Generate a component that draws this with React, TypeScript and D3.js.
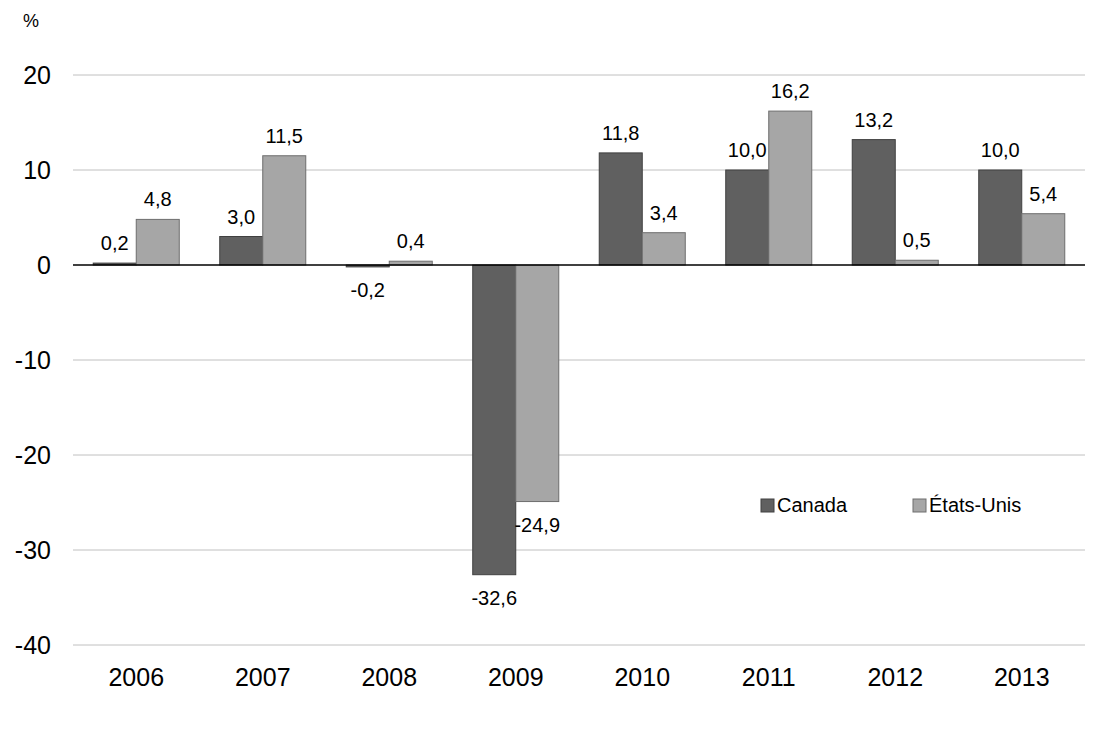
import * as d3 from 'd3';

const years = ['2006', '2007', '2008', '2009', '2010', '2011', '2012', '2013'];
const canada = [0.2, 3.0, -0.2, -32.6, 11.8, 10.0, 13.2, 10.0];
const etatsUnis = [4.8, 11.5, 0.4, -24.9, 3.4, 16.2, 0.5, 5.4];
const yTicks = [20, 10, 0, -10, -20, -30, -40];

const series = [
  { name: 'Canada', values: canada, fill: '#606060', stroke: '#404040' },
  { name: 'États-Unis', values: etatsUnis, fill: '#a6a6a6', stroke: '#6e6e6e' },
];

const W = 1100;
const H = 733;
const font = 'Arial, "Liberation Sans", sans-serif';

const fmt = (v: number) => v.toFixed(1).replace('.', ',');

export default function App() {
  const x = d3.scaleBand<string>().domain(years).range([73, 1085]).paddingInner(0.32).paddingOuter(0.16);
  const xs = d3
    .scaleBand<string>()
    .domain(series.map((s) => s.name))
    .range([0, x.bandwidth()]);
  const y = d3.scaleLinear().domain([-40, 20]).range([645, 75]);

  return (
    <svg
      width={W}
      height={H}
      style={{ position: 'absolute', left: 0, top: 0, background: '#fff' }}
      fontFamily={font}
    >
      <text x={23} y={27} fontSize={18}>
        %
      </text>

      {/* gridlines + y labels */}
      {yTicks.map((t) => (
        <g key={t}>
          {t !== 0 && (
            <line x1={73} x2={1085} y1={y(t)} y2={y(t)} stroke="#c0c0c0" strokeWidth={1} />
          )}
          <text x={51} y={y(t)} dy="0.36em" textAnchor="end" fontSize={25} fill="#000">
            {t}
          </text>
        </g>
      ))}

      {/* bars */}
      {series.map((s) => (
        <g key={s.name}>
          {s.values.map((v, i) => {
            const bx = (x(years[i]) ?? 0) + (xs(s.name) ?? 0);
            const top = y(Math.max(0, v));
            const bot = y(Math.min(0, v));
            return (
              <rect
                key={i}
                x={bx}
                y={top}
                width={xs.bandwidth()}
                height={Math.max(bot - top, 1)}
                fill={s.fill}
                stroke={s.stroke}
                strokeWidth={1}
              />
            );
          })}
        </g>
      ))}

      {/* zero line */}
      <line x1={73} x2={1085} y1={y(0)} y2={y(0)} stroke="#000" strokeWidth={1.5} />

      {/* value labels */}
      {series.map((s) =>
        s.values.map((v, i) => {
          const cx = (x(years[i]) ?? 0) + (xs(s.name) ?? 0) + xs.bandwidth() / 2;
          const ly = v >= 0 ? y(v) - 13 : y(v) + 30;
          return (
            <text key={s.name + i} x={cx} y={ly} textAnchor="middle" fontSize={20} fill="#000">
              {fmt(v)}
            </text>
          );
        }),
      )}

      {/* x labels */}
      {years.map((yr) => (
        <text
          key={yr}
          x={(x(yr) ?? 0) + x.bandwidth() / 2}
          y={686}
          textAnchor="middle"
          fontSize={25}
          fill="#000"
        >
          {yr}
        </text>
      ))}

      {/* legend */}
      {series.map((s, i) => {
        const lx = 761 + i * 152;
        return (
          <g key={s.name}>
            <rect x={lx} y={499} width={13} height={13} fill={s.fill} stroke={s.stroke} strokeWidth={1} />
            <text x={lx + 16} y={512} fontSize={20} fill="#000">
              {s.name}
            </text>
          </g>
        );
      })}
    </svg>
  );
}
